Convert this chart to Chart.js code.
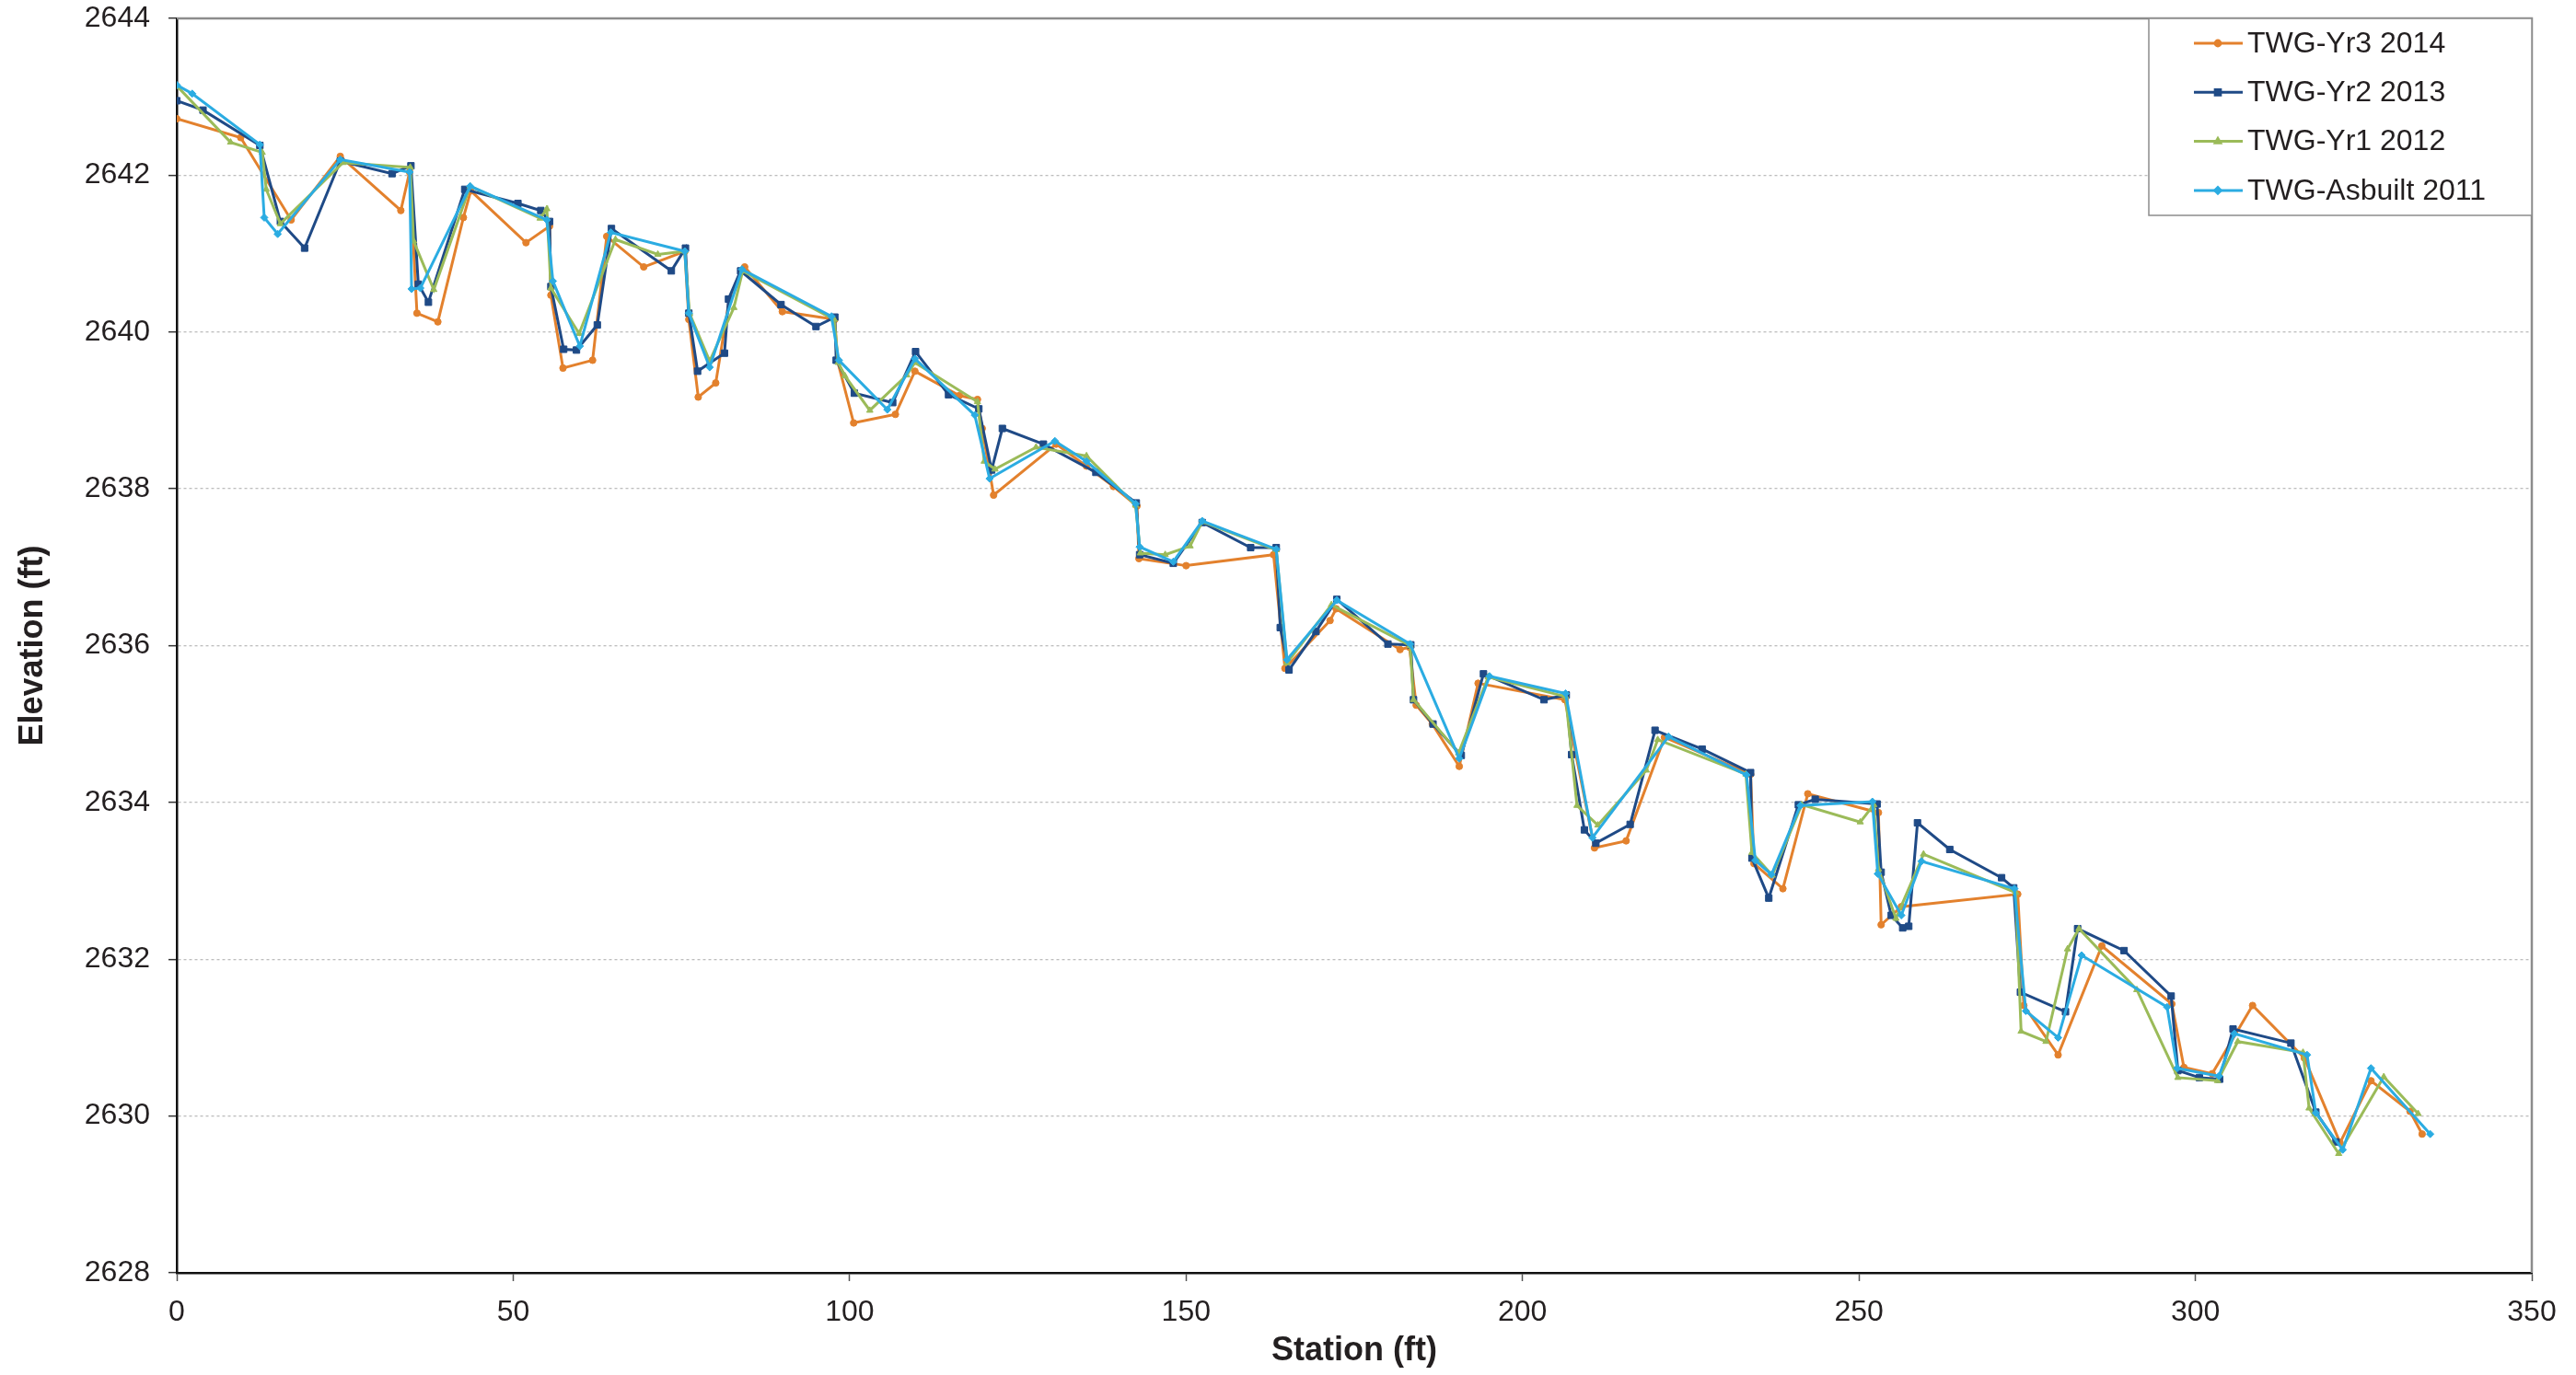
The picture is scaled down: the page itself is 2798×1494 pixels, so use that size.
<!DOCTYPE html>
<html><head><meta charset="utf-8">
<script src="https://cdn.jsdelivr.net/npm/chart.js@4.4.1/dist/chart.umd.min.js"></script>
<style>html,body{margin:0;padding:0;background:#fff;} #wrap{width:2798px;height:1494px;position:relative;}</style>
</head><body><div id="wrap"><canvas id="c" width="2798" height="1494"></canvas></div>
<script>
const seriesNames = ['TWG-Yr3 2014', 'TWG-Yr2 2013', 'TWG-Yr1 2012', 'TWG-Asbuilt 2011'];
const seriesColors = ['#E3812D', '#1F4A86', '#9BBB59', '#2BACE2'];

const yr3Station = [0,9.5,17.0,24.3,33.3,34.6,35.7,38.8,42.6,43.7,51.9,55.4,55.6,57.4,61.8,63.9,69.4,75.5,76.1,77.5,80.1,82.1,84.4,90.0,97.8,98.2,100.6,106.8,109.7,116.3,119.0,119.7,121.4,130.7,135.2,139.2,142.7,143.0,150.0,163.0,164.7,171.4,172.3,181.8,183.2,184.2,186.6,190.6,193.4,206.3,210.7,215.4,221.1,233.9,234.4,238.7,242.4,252.9,253.3,256.3,273.6,274.5,279.6,286.1,296.5,298.3,302.5,308.5,316.2,321.5,326.1,331.9,333.7];
const yr3Elev = [2642.72,2642.48,2641.43,2642.24,2641.55,2642.04,2640.24,2640.13,2641.46,2641.80,2641.14,2641.35,2640.47,2639.54,2639.64,2641.22,2640.83,2641.03,2640.16,2639.17,2639.35,2640.41,2640.83,2640.26,2640.16,2639.63,2638.84,2638.95,2639.50,2639.19,2639.14,2638.77,2637.92,2638.57,2638.29,2638.03,2637.78,2637.11,2637.02,2637.16,2635.71,2636.32,2636.47,2635.95,2635.98,2635.24,2635.00,2634.46,2635.52,2635.31,2633.42,2633.51,2634.83,2634.36,2633.22,2632.90,2634.11,2633.87,2632.44,2632.67,2632.83,2631.41,2630.78,2632.17,2631.43,2630.62,2630.54,2631.41,2630.74,2629.66,2630.45,2630.06,2629.77];

const yr2Station = [0,3.9,12.35,15.4,19.0,24.3,32.0,34.8,35.9,37.4,42.8,50.7,54.1,55.4,55.6,57.5,59.4,62.5,64.6,73.5,75.6,76.1,77.4,81.4,82.0,83.8,89.8,95.0,97.8,98.0,100.7,106.4,109.8,114.7,119.2,121.1,122.7,128.8,136.6,142.6,143.1,148.1,152.4,159.6,163.4,164.0,165.3,169.3,172.4,180.0,183.4,183.8,186.7,190.9,194.2,203.2,206.5,207.3,209.2,210.9,216.0,219.7,226.7,233.9,234.1,236.6,241.0,243.5,252.7,253.3,254.8,256.5,257.4,258.7,263.5,271.2,273.0,274.0,280.7,282.5,289.4,296.4,297.4,300.6,303.6,305.6,314.2,317.9,320.9];
const yr2Elev = [2642.95,2642.83,2642.38,2641.41,2641.07,2642.18,2642.02,2642.12,2640.61,2640.38,2641.82,2641.64,2641.55,2641.41,2640.58,2639.78,2639.77,2640.09,2641.32,2640.78,2641.07,2640.24,2639.50,2639.73,2640.42,2640.78,2640.35,2640.07,2640.19,2639.64,2639.22,2639.10,2639.75,2639.20,2639.02,2638.24,2638.77,2638.57,2638.21,2637.82,2637.16,2637.05,2637.57,2637.25,2637.25,2636.23,2635.69,2636.18,2636.59,2636.02,2636.01,2635.31,2635.00,2634.60,2635.64,2635.31,2635.37,2634.61,2633.65,2633.48,2633.72,2634.92,2634.68,2634.38,2633.29,2632.78,2633.97,2634.04,2633.98,2633.11,2632.56,2632.40,2632.42,2633.74,2633.40,2633.04,2632.91,2631.58,2631.33,2632.39,2632.11,2631.53,2630.58,2630.49,2630.47,2631.11,2630.93,2630.05,2629.67];

const yr1Station = [0.1,8.0,12.7,13.3,15.4,24.7,34.7,35.2,38.2,43.6,54.0,55.0,55.6,59.8,65.2,71.5,75.5,76.2,79.2,82.8,84.1,97.7,98.3,99.3,103.0,108.5,109.7,119.0,120.0,121.6,127.7,135.2,142.5,143.2,146.9,150.6,152.4,163.4,165.0,171.6,183.3,183.8,190.5,194.9,206.4,208.1,211.2,218.4,220.1,233.2,234.1,237.1,241.5,250.2,252.2,252.9,255.5,259.6,273.3,274.1,277.8,281.0,282.7,291.3,297.4,303.3,306.3,316.0,316.9,321.3,328.0,333.1];
const yr1Elev = [2643.13,2642.42,2642.29,2641.82,2641.38,2642.16,2642.10,2641.16,2640.54,2641.86,2641.45,2641.57,2640.56,2639.98,2641.18,2640.99,2641.03,2640.24,2639.63,2640.31,2640.78,2640.16,2639.61,2639.44,2639.00,2639.45,2639.61,2639.11,2638.35,2638.25,2638.53,2638.42,2637.79,2637.18,2637.16,2637.27,2637.58,2637.22,2635.78,2636.52,2636.00,2635.31,2634.63,2635.60,2635.35,2633.96,2633.71,2634.41,2634.80,2634.36,2633.36,2633.07,2633.97,2633.75,2633.97,2633.15,2632.52,2633.34,2632.85,2631.08,2630.95,2632.13,2632.39,2631.61,2630.49,2630.45,2630.95,2630.81,2630.10,2629.52,2630.50,2630.03];

const asbStation = [0,2.3,12.35,13.0,15.0,24.3,34.6,34.9,36.2,43.6,55.0,55.9,59.9,64.5,75.5,76.1,79.2,84.0,97.3,98.4,105.6,109.7,118.6,120.8,130.5,135.2,142.5,143.1,148.1,152.4,163.4,165.0,172.4,183.3,190.6,195.1,206.4,210.4,221.7,233.3,234.6,237.0,241.3,252.0,252.8,256.3,259.3,273.1,274.8,279.6,283.1,295.8,297.3,303.5,305.8,316.6,317.9,321.9,326.1,334.9];
const asbElev = [2643.15,2643.04,2642.39,2641.46,2641.25,2642.20,2642.04,2640.55,2640.56,2641.86,2641.43,2640.65,2639.82,2641.27,2641.03,2640.24,2639.55,2640.80,2640.20,2639.64,2639.01,2639.66,2638.94,2638.13,2638.61,2638.35,2637.81,2637.26,2637.07,2637.59,2637.23,2635.82,2636.58,2636.02,2634.56,2635.61,2635.39,2633.55,2634.84,2634.35,2633.26,2633.08,2633.96,2634.01,2633.09,2632.56,2633.25,2632.90,2631.34,2631.00,2632.05,2631.39,2630.61,2630.51,2631.05,2630.78,2630.04,2629.57,2630.61,2629.77];

const xTicks = [0,50,100,150,200,250,300,350];
const yTicks = [2628,2630,2632,2634,2636,2638,2640,2642,2644];

const pts = (xs, ys) => xs.map((x, i) => ({x: x, y: ys[i]}));
const stations = [yr3Station, yr2Station, yr1Station, asbStation];
const elevs = [yr3Elev, yr2Elev, yr1Elev, asbElev];
const styles = [
  {pointStyle: 'circle', pointRadius: 3.6},
  {pointStyle: 'rect', pointRadius: 5},
  {pointStyle: 'triangle', pointRadius: 4},
  {pointStyle: 'rectRot', pointRadius: 4}
];

const FONT = '"Liberation Sans", Arial, sans-serif';
const TXT = '#231F20';

const datasets = seriesNames.map((name, i) => ({
  label: name,
  data: pts(stations[i], elevs[i]),
  showLine: true,
  borderColor: seriesColors[i],
  backgroundColor: seriesColors[i],
  pointBackgroundColor: seriesColors[i],
  pointBorderColor: seriesColors[i],
  pointBorderWidth: 1,
  borderWidth: 3,
  tension: 0,
  pointStyle: styles[i].pointStyle,
  pointRadius: styles[i].pointRadius,
  order: 4 - i
}));

const frame = {
  id: 'frame',
  beforeDatasetsDraw(chart) {
    const {ctx, chartArea: a} = chart;
    ctx.save();
    ctx.strokeStyle = '#8C8C8C';
    ctx.lineWidth = 2.5;
    ctx.beginPath();
    ctx.moveTo(a.left, a.top);
    ctx.lineTo(a.right, a.top);
    ctx.lineTo(a.right, a.bottom);
    ctx.stroke();
    ctx.restore();
  }
};

const legendBox = {
  id: 'legendBox',
  afterDraw(chart) {
    const ctx = chart.ctx;
    const a = chart.chartArea;
    const x0 = 2334, y0 = a.top, x1 = a.right, y1 = 234;
    ctx.save();
    ctx.fillStyle = '#fff';
    ctx.fillRect(x0, y0, x1 - x0, y1 - y0);
    ctx.strokeStyle = '#8C8C8C';
    ctx.lineWidth = 1.5;
    ctx.strokeRect(x0, y0, x1 - x0, y1 - y0);
    chart.data.datasets.forEach((ds, i) => {
      const cy = 47 + i * 53.3;
      ctx.strokeStyle = ds.borderColor;
      ctx.lineWidth = 3;
      ctx.beginPath();
      ctx.moveTo(2383, cy);
      ctx.lineTo(2436, cy);
      ctx.stroke();
      Chart.helpers.drawPoint(ctx, {pointStyle: ds.pointStyle, radius: ds.pointRadius * 0.8, borderWidth: 1}, 2409, cy);
      ctx.fillStyle = ds.borderColor;
      ctx.fill();
      ctx.fillStyle = TXT;
      ctx.font = '32px ' + FONT;
      ctx.textBaseline = 'middle';
      ctx.textAlign = 'left';
      ctx.fillText(ds.label, 2441, cy + 1);
    });
    ctx.restore();
  }
};

new Chart(document.getElementById('c'), {
  type: 'scatter',
  data: {datasets: datasets},
  options: {
    responsive: false,
    animation: false,
    devicePixelRatio: 1,
    layout: {padding: {top: 20, right: 48, left: 0, bottom: 0}},
    plugins: {legend: {display: false}, tooltip: {enabled: false}},
    scales: {
      x: {
        type: 'linear', min: 0, max: 350,
        afterBuildTicks: (s) => { s.ticks = xTicks.map(v => ({value: v})); },
        afterFit: (s) => { s.height = 111; s.paddingLeft = 0; s.paddingRight = 0; },
        ticks: {font: {family: FONT, size: 32}, color: TXT, padding: 15, maxRotation: 0, callback: (v) => String(v)},
        grid: {drawOnChartArea: false, drawTicks: true, tickLength: 9, tickColor: '#555', tickWidth: 1.5},
        border: {display: true, color: '#111', width: 2.5},
        title: {display: true, text: 'Station (ft)', color: TXT, font: {family: FONT, size: 36, weight: 'bold'}, padding: {top: 0, bottom: 4}}
      },
      y: {
        type: 'linear', min: 2628, max: 2644,
        afterBuildTicks: (s) => { s.ticks = yTicks.map(v => ({value: v})); },
        afterFit: (s) => { s.width = 192; s.paddingTop = 0; s.paddingBottom = 0; },
        ticks: {font: {family: FONT, size: 32}, color: TXT, padding: 20, callback: (v) => String(v)},
        grid: {drawOnChartArea: true, color: '#BDBDBD', lineWidth: 1.3, drawTicks: true, tickLength: 9, tickColor: '#333', tickWidth: 1.5},
        border: {display: true, color: '#111', width: 2.5, dash: [3, 3]},
        title: {display: true, text: 'Elevation (ft)', color: TXT, font: {family: FONT, size: 36, weight: 'bold'}, padding: {top: 14, bottom: 0}}
      }
    }
  },
  plugins: [frame, legendBox]
});
</script>
</body></html>
